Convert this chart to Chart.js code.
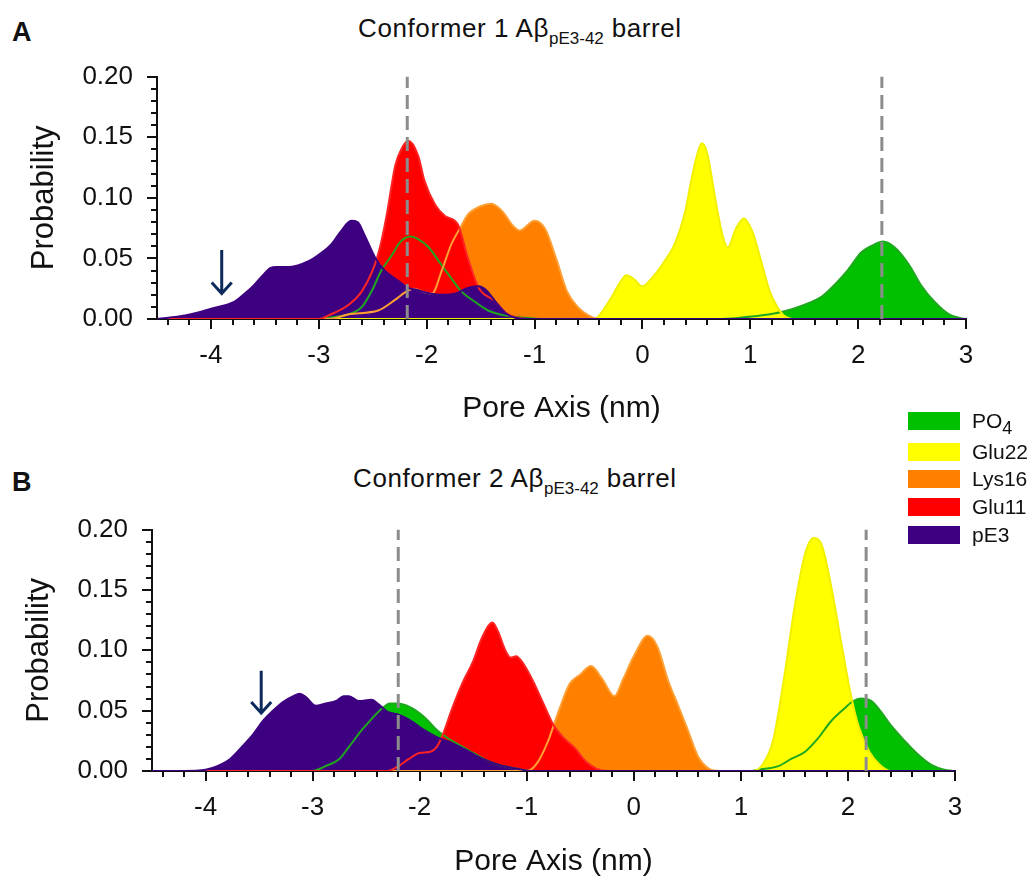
<!DOCTYPE html>
<html>
<head>
<meta charset="utf-8">
<title>Pore axis density profiles</title>
<script src="https://cdn.jsdelivr.net/npm/chart.js@4.4.1/dist/chart.umd.min.js"></script>
<style>
  html, body { margin: 0; padding: 0; background: #fff; }
  body { position: relative; width: 1035px; height: 877px; overflow: hidden;
         font-family: "Liberation Sans", Arial, sans-serif; color: #111; }
  canvas { position: absolute; left: 0; }
  #chartA { top: 37px; }
  #chartB { top: 490px; }
  .tag { position: absolute; font-weight: bold; font-size: 27px; line-height: 27px; }
  .head { position: absolute; font-size: 26px; line-height: 26px; letter-spacing: 0.6px; white-space: nowrap; }
  .head .sub { font-size: 17px; position: relative; top: 7px; letter-spacing: 0; }
  #legend { position: absolute; left: 908px; top: 412px; }
  .row { position: absolute; left: 0; height: 18px; white-space: nowrap; }
  .row i { position: absolute; left: 0; top: 0; width: 52px; height: 18px; }
  .row span { position: absolute; left: 64px; top: 0; font-size: 21px; line-height: 18px; }
  .row sub { font-size: 18px; vertical-align: -6px; line-height: 0; }
</style>
</head>
<body>
<div class="tag" style="left:12px;top:19px">A</div>
<div class="head" style="left:358px;top:15px">Conformer 1 Aβ<span class="sub">pE3-42</span> barrel</div>
<canvas id="chartA" width="1000" height="393"></canvas>
<div class="tag" style="left:12px;top:469px">B</div>
<div class="head" style="left:353px;top:465px">Conformer 2 Aβ<span class="sub">pE3-42</span> barrel</div>
<canvas id="chartB" width="1000" height="390"></canvas>
<div id="legend"></div>
<script>
// residue groups, drawn back to front from the end of the list
const seriesNames = ['pE3', 'Glu11', 'Lys16', 'Glu22', 'PO4'];
const fillColors = ['#3d0080', '#ff0000', '#ff8000', '#ffff00', '#00c000'];
const lineColors = ['#3d0080', '#ff2424', '#ff9f33', '#f0f000', '#1fa81f'];
const xTickValues = [-4, -3, -2, -1, 0, 1, 2, 3];
const yTickValues = [0, 0.05, 0.10, 0.15, 0.20];

// ---- conformer 1: pore axis (nm) / probability ----
const pE3A_x = [-4.5, -4.24, -4.09, -3.98, -3.79, -3.70, -3.61, -3.52, -3.45, -3.39, -3.27, -3.09, -3.0, -2.88, -2.79, -2.70, -2.64, -2.58, -2.48, -2.39, -2.27, -2.18, -2.09, -1.97, -1.85, -1.73, -1.64, -1.52, -1.45, -1.36, -1.27, -1.18, -1.05, 3.0];
const pE3A_y = [0, 0.003, 0.006, 0.009, 0.014, 0.020, 0.027, 0.036, 0.042, 0.043, 0.043, 0.048, 0.053, 0.062, 0.073, 0.081, 0.080, 0.070, 0.051, 0.040, 0.032, 0.026, 0.024, 0.021, 0.020, 0.021, 0.025, 0.027, 0.024, 0.014, 0.005, 0.001, 0, 0];

const glu11A_x = [-4.5, -3.0, -2.91, -2.72, -2.60, -2.48, -2.42, -2.37, -2.29, -2.23, -2.17, -2.08, -2.02, -1.92, -1.83, -1.71, -1.62, -1.52, -1.37, -1.25, -1.15, -1.05, 3.0];
const glu11A_y = [0, 0, 0.003, 0.012, 0.023, 0.045, 0.064, 0.086, 0.127, 0.141, 0.147, 0.135, 0.114, 0.094, 0.085, 0.078, 0.051, 0.026, 0.015, 0.004, 0.001, 0, 0];

const lys16A_x = [-4.5, -2.9, -2.72, -2.45, -2.29, -2.2, -2.12, -2.02, -1.95, -1.86, -1.77, -1.69, -1.62, -1.5, -1.4, -1.3, -1.2, -1.14, -1.0, -0.9, -0.8, -0.7, -0.6, -0.5, -0.4, 3.0];
const lys16A_y = [0, 0, 0.004, 0.007, 0.016, 0.022, 0.025, 0.022, 0.021, 0.040, 0.062, 0.075, 0.086, 0.093, 0.095, 0.089, 0.077, 0.073, 0.081, 0.074, 0.050, 0.023, 0.010, 0.003, 0, 0];

const glu22A_x = [-4.5, -0.45, -0.4, -0.3, -0.2, -0.15, -0.08, 0.0, 0.1, 0.2, 0.3, 0.4, 0.45, 0.5, 0.55, 0.6, 0.68, 0.74, 0.79, 0.87, 0.94, 1.02, 1.1, 1.18, 1.25, 1.31, 1.4, 3.0];
const glu22A_y = [0, 0, 0.003, 0.016, 0.031, 0.036, 0.033, 0.027, 0.035, 0.047, 0.062, 0.090, 0.113, 0.133, 0.145, 0.137, 0.097, 0.070, 0.059, 0.075, 0.083, 0.072, 0.048, 0.023, 0.010, 0.003, 0, 0];

const po4A_x = [-4.5, -3.0, -2.91, -2.72, -2.6, -2.51, -2.42, -2.32, -2.25, -2.15, -2.08, -1.98, -1.89, -1.80, -1.68, -1.55, -1.43, -1.28, -1.09, -0.9, 0.7, 0.9, 1.11, 1.30, 1.48, 1.67, 1.79, 1.91, 2.03, 2.14, 2.23, 2.34, 2.47, 2.59, 2.71, 2.84, 2.96, 3.0];
const po4A_y = [0, 0, 0.001, 0.004, 0.010, 0.023, 0.040, 0.053, 0.063, 0.068, 0.066, 0.059, 0.048, 0.037, 0.023, 0.014, 0.007, 0.003, 0.001, 0, 0, 0.001, 0.003, 0.006, 0.011, 0.019, 0.029, 0.041, 0.055, 0.061, 0.064, 0.059, 0.045, 0.027, 0.014, 0.004, 0.0005, 0];

// ---- conformer 2 ----
const pE3B_x = [-4.5, -4.2, -4.0, -3.89, -3.77, -3.65, -3.55, -3.46, -3.37, -3.28, -3.18, -3.12, -3.06, -2.97, -2.88, -2.78, -2.71, -2.66, -2.57, -2.45, -2.38, -2.30, -2.21, -2.09, -1.96, -1.84, -1.72, -1.56, -1.41, -1.26, -1.10, -0.95, 3.0];
const pE3B_y = [0, 0, 0.001, 0.004, 0.010, 0.021, 0.031, 0.042, 0.050, 0.057, 0.062, 0.064, 0.061, 0.054, 0.056, 0.058, 0.062, 0.062, 0.058, 0.059, 0.055, 0.049, 0.047, 0.042, 0.034, 0.028, 0.024, 0.017, 0.010, 0.005, 0.002, 0, 0];

const glu11B_x = [-4.5, -2.3, -2.2, -2.1, -2.0, -1.9, -1.84, -1.78, -1.7, -1.6, -1.5, -1.42, -1.32, -1.27, -1.2, -1.15, -1.1, -1.04, -0.95, -0.85, -0.75, -0.65, -0.55, -0.45, -0.35, -0.25, 3.0];
const glu11B_y = [0, 0, 0.004, 0.010, 0.015, 0.016, 0.020, 0.031, 0.051, 0.073, 0.091, 0.110, 0.123, 0.116, 0.100, 0.094, 0.095, 0.090, 0.076, 0.057, 0.038, 0.027, 0.019, 0.008, 0.002, 0, 0];

const lys16B_x = [-4.5, -1.0, -0.9, -0.8, -0.7, -0.6, -0.5, -0.4, -0.3, -0.18, -0.1, 0.0, 0.13, 0.22, 0.32, 0.42, 0.5, 0.6, 0.7, 0.8, 3.0];
const lys16B_y = [0, 0, 0.007, 0.025, 0.050, 0.072, 0.080, 0.087, 0.077, 0.062, 0.076, 0.095, 0.112, 0.103, 0.075, 0.053, 0.035, 0.012, 0.002, 0, 0];

const glu22B_x = [-4.5, 1.1, 1.2, 1.3, 1.4, 1.5, 1.6, 1.68, 1.76, 1.85, 1.95, 2.03, 2.1, 2.2, 2.3, 2.4, 3.0];
const glu22B_y = [0, 0, 0.005, 0.025, 0.075, 0.135, 0.180, 0.193, 0.186, 0.150, 0.100, 0.062, 0.037, 0.016, 0.005, 0, 0];

const po4B_x = [-4.5, -3.0, -2.88, -2.75, -2.66, -2.54, -2.45, -2.35, -2.28, -2.21, -2.09, -1.96, -1.84, -1.75, -1.62, -1.50, -1.38, -1.26, -1.10, -0.95, 1.1, 1.16, 1.35, 1.47, 1.60, 1.72, 1.84, 1.97, 2.05, 2.12, 2.22, 2.31, 2.40, 2.53, 2.65, 2.78, 2.90, 3.0];
const po4B_y = [0, 0, 0.004, 0.010, 0.020, 0.034, 0.043, 0.052, 0.056, 0.056, 0.053, 0.045, 0.034, 0.028, 0.021, 0.015, 0.009, 0.005, 0.002, 0, 0, 0.001, 0.004, 0.010, 0.016, 0.027, 0.041, 0.052, 0.058, 0.060, 0.058, 0.049, 0.038, 0.025, 0.014, 0.005, 0.001, 0];

// membrane boundaries (dashed) and arrow [x, tail y, tip y]
const bilayerA = [-2.18, 2.22];
const bilayerB = [-2.2, 2.17];
const arrowA = [-3.9, 0.057, 0.021];
const arrowB = [-3.48, 0.083, 0.048];

Chart.defaults.font.family = '"Liberation Sans", Arial, sans-serif';
Chart.defaults.color = '#111';

// minor/major tick marks pointing out of the plot
const axisTicks = {
  id: 'axisTicks',
  afterDraw(chart) {
    const {ctx, chartArea: area, scales: {x, y}} = chart;
    ctx.save();
    ctx.strokeStyle = '#111';
    ctx.lineWidth = 2;
    ctx.beginPath();
    for (let k = -22; k <= 15; k++) {
      const px = Math.round(x.getPixelForValue(k / 5));
      const len = k % 5 === 0 ? 10 : 6;
      ctx.moveTo(px, area.bottom);
      ctx.lineTo(px, area.bottom + len);
    }
    for (let k = 0; k <= 20; k++) {
      const py = Math.round(y.getPixelForValue(k / 100));
      const len = k % 5 === 0 ? 10 : 6;
      ctx.moveTo(area.left, py);
      ctx.lineTo(area.left - len, py);
    }
    ctx.stroke();
    ctx.restore();
  }
};

const poreArrow = {
  id: 'poreArrow',
  afterDatasetsDraw(chart, args, opts) {
    if (!opts.at) return;
    const {ctx, scales: {x, y}} = chart;
    const px = x.getPixelForValue(opts.at[0]);
    const top = y.getPixelForValue(opts.at[1]);
    const tip = y.getPixelForValue(opts.at[2]);
    ctx.save();
    ctx.strokeStyle = '#0c2a5c';
    ctx.lineWidth = 3;
    ctx.beginPath();
    ctx.moveTo(px, top);
    ctx.lineTo(px, tip - 1);
    ctx.moveTo(px - 10, tip - 11);
    ctx.lineTo(px, tip);
    ctx.lineTo(px + 10, tip - 11);
    ctx.stroke();
    ctx.restore();
  }
};

function buildDatasets(xs, ys, bilayer) {
  const yTop = yTickValues[yTickValues.length - 1];
  const dashed = bilayer.map(v => ({
    label: 'bilayer',
    data: [{x: v, y: 0}, {x: v, y: yTop}],
    borderColor: '#8c8c8c',
    borderWidth: 3,
    borderDash: [14, 7],
    fill: false,
    cubicInterpolationMode: 'default',
    tension: 0,
    pointRadius: 0
  }));
  const series = seriesNames.map((name, i) => ({
    label: name,
    data: xs[i].map((x, j) => ({x: x, y: ys[i][j]})),
    backgroundColor: fillColors[i],
    borderColor: lineColors[i],
    borderWidth: 2,
    fill: 'origin',
    cubicInterpolationMode: 'monotone',
    pointRadius: 0
  }));
  return dashed.concat(series);
}

function makeChart(id, xs, ys, bilayer, arrow, box) {
  const ctx = document.getElementById(id).getContext('2d');
  return new Chart(ctx, {
    type: 'line',
    data: {datasets: buildDatasets(xs, ys, bilayer)},
    options: {
      responsive: false,
      animation: false,
      events: [],
      layout: {padding: {top: 25, right: box.padRight, left: 0, bottom: 0}},
      scales: {
        x: {
          type: 'linear',
          min: -4.5,
          max: 3,
          afterBuildTicks: s => { s.ticks = xTickValues.map(v => ({value: v})); },
          afterFit: s => { s.height = box.xAxisH; },
          ticks: {font: {size: 26}, color: '#111', padding: 21, maxRotation: 0, callback: v => String(v)},
          grid: {display: false, drawTicks: false},
          border: {display: true, color: '#111', width: 2},
          title: {display: true, text: 'Pore Axis (nm)', color: '#111', font: {size: 30}, padding: {top: 0, bottom: box.xTitlePad}}
        },
        y: {
          type: 'linear',
          min: 0,
          max: 0.2,
          afterBuildTicks: s => { s.ticks = yTickValues.map(v => ({value: v})); },
          afterFit: s => { s.width = box.yAxisW; },
          ticks: {font: {size: 26}, color: '#111', padding: 24, callback: v => v.toFixed(2)},
          grid: {display: false, drawTicks: false},
          border: {display: true, color: '#111', width: 2},
          title: {display: true, text: 'Probability', color: '#111', font: {size: 31}, padding: {top: box.yTitlePad, bottom: 0}}
        }
      },
      plugins: {
        legend: {display: false},
        tooltip: {enabled: false},
        filler: {drawTime: 'beforeDatasetsDraw'},
        poreArrow: {at: arrow}
      }
    },
    plugins: [axisTicks, poreArrow]
  });
}

makeChart('chartA',
  [pE3A_x, glu11A_x, lys16A_x, glu22A_x, po4A_x],
  [pE3A_y, glu11A_y, lys16A_y, glu22A_y, po4A_y],
  bilayerA, arrowA,
  {padRight: 34, yAxisW: 157, xAxisH: 111, xTitlePad: 3, yTitlePad: 26});

makeChart('chartB',
  [pE3B_x, glu11B_x, lys16B_x, glu22B_x, po4B_x],
  [pE3B_y, glu11B_y, lys16B_y, glu22B_y, po4B_y],
  bilayerB, arrowB,
  {padRight: 45, yAxisW: 152, xAxisH: 109, xTitlePad: 0, yTitlePad: 21});

// legend, PO4 first
const legend = document.getElementById('legend');
const rowTops = [0, 31, 58, 86, 114];
seriesNames.slice().reverse().forEach((name, k) => {
  const i = seriesNames.length - 1 - k;
  const row = document.createElement('div');
  row.className = 'row';
  row.style.top = rowTops[k] + 'px';
  const swatch = document.createElement('i');
  swatch.style.background = fillColors[i];
  const text = document.createElement('span');
  if (name === 'PO4') {
    text.innerHTML = 'PO<sub>4</sub>';
  } else {
    text.textContent = name;
  }
  row.appendChild(swatch);
  row.appendChild(text);
  legend.appendChild(row);
});
</script>
</body>
</html>
